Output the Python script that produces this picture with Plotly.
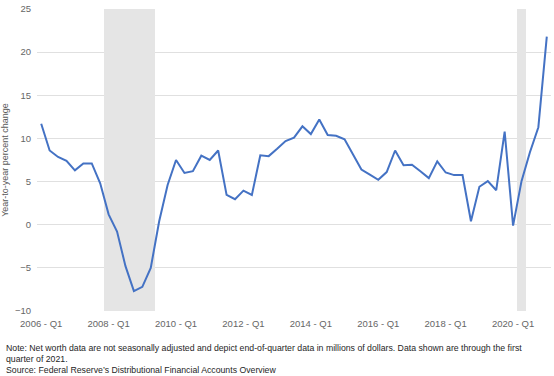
import plotly.graph_objects as go

years = list(range(2006, 2022))
quarters = [f"{y} - Q{q}" for y in years for q in range(1, 5)][:61]  # 2006 Q1 .. 2021 Q1

# Year-to-year percent change in household net worth
pct_change = [
    11.7, 8.6, 7.85, 7.4, 6.3, 7.1, 7.1, 4.8, 1.2, -0.8,
    -4.8, -7.7, -7.2, -5.0, 0.4, 4.6, 7.5, 6.0, 6.2, 8.0,
    7.5, 8.6, 3.45, 2.95, 3.95, 3.45, 8.05, 7.95, 8.8, 9.7,
    10.1, 11.4, 10.5, 12.2, 10.4, 10.3, 9.9, 8.1, 6.4, 5.8,
    5.2, 6.1, 8.6, 6.9, 6.95, 6.2, 5.4, 7.35, 6.05, 5.75,
    5.75, 0.4, 4.4, 5.05, 4.0, 10.8, -0.1, 5.05, 8.4, 11.3,
    21.8,
]

recession_quarters = ["2008 - Q1", "2008 - Q2", "2008 - Q3", "2008 - Q4",
                      "2009 - Q1", "2009 - Q2", "2020 - Q2"]

tick_labels = ["2006 - Q1", "2008 - Q1", "2010 - Q1", "2012 - Q1",
               "2014 - Q1", "2016 - Q1", "2018 - Q1", "2020 - Q1"]

y_min, y_max = -10, 25
y_ticks = [-10, -5, 0, 5, 10, 15, 20, 25]

note_lines = [
    "Note: Net worth data are not seasonally adjusted and depict end-of-quarter data in millions of dollars. Data shown are through the first",
    "quarter of 2021.",
    "Source: Federal Reserve\u2019s Distributional Financial Accounts Overview",
]

FONT = "Liberation Sans"

fig = go.Figure()
fig.add_trace(go.Bar(
    x=recession_quarters,
    y=[y_max - y_min] * len(recession_quarters),
    base=y_min,
    width=1,
    marker=dict(color="#e5e5e5", line=dict(width=0)),
    hoverinfo="skip",
    showlegend=False,
))
fig.add_trace(go.Scatter(
    x=quarters,
    y=pct_change,
    mode="lines",
    line=dict(color="#4472c4", width=2),
    showlegend=False,
))

fig.update_layout(
    width=554, height=376,
    margin=dict(l=35, r=3, t=6, b=65),
    paper_bgcolor="white",
    plot_bgcolor="white",
    bargap=0,
    font=dict(family=FONT, color="#595959", size=9),
    xaxis=dict(
        type="category",
        categoryorder="array",
        categoryarray=quarters,
        range=[-0.5, len(quarters) - 0.5],
        tickmode="array",
        tickvals=tick_labels,
        ticktext=tick_labels,
        ticks="outside", ticklen=4, tickcolor="rgba(0,0,0,0)",
        showgrid=False, zeroline=False, showline=False,
        tickfont=dict(size=9.5, color="#666666"),
    ),
    yaxis=dict(
        range=[y_min, y_max],
        tickvals=y_ticks,
        showgrid=True, gridcolor="#e0e0e0", gridwidth=1,
        zeroline=False, showline=False,
        ticks="outside", ticklen=3, tickcolor="rgba(0,0,0,0)",
        tickfont=dict(size=9.5, color="#666666"),
        title=dict(text="Year-to-year percent change", standoff=6,
                   font=dict(size=9, color="#595959")),
    ),
)

plot_top, plot_bottom = 6, 311
plot_h = plot_bottom - plot_top
plot_left, plot_w = 35, 516
for txt, yc in zip(note_lines, [348.7, 359.9, 370.8]):
    fig.add_annotation(
        text=txt, xref="paper", yref="paper",
        x=(2 - plot_left) / plot_w, y=(plot_bottom - yc) / plot_h,
        xanchor="left", yanchor="middle", showarrow=False,
        font=dict(family=FONT, size=8.72, color="#262626"),
    )

fig.write_html(
    "out.html",
    config={"displayModeBar": False},
    post_script="document.body.style.margin='0';document.body.style.overflow='hidden';",
)
